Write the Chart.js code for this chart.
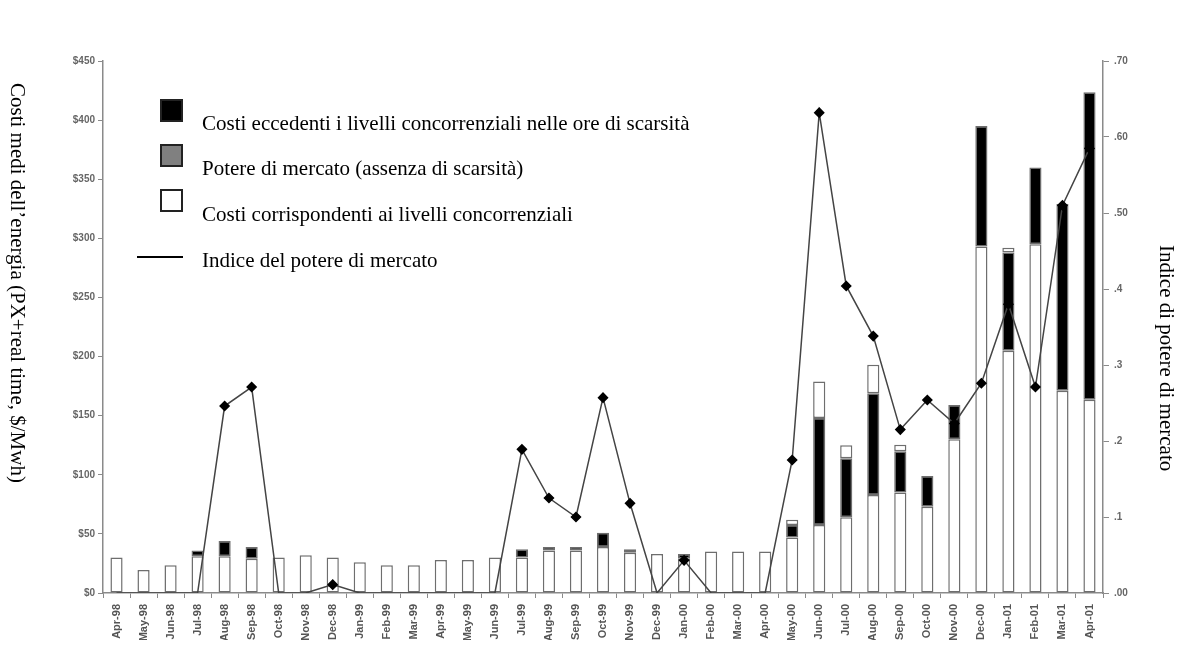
<!DOCTYPE html>
<html>
<head>
<meta charset="utf-8">
<script src="https://cdn.jsdelivr.net/npm/chart.js@4"></script>
<style>
    body { margin: 0; background: #fff; overflow: hidden; }
    #wrap { position: relative; width: 1194px; height: 649px; }
    #chart { position: absolute; left: 0; top: 0; }
    .serif { position: absolute; font-family: "Liberation Serif", "Times New Roman", serif; font-size: 21px; line-height: 21px; color: #000; white-space: nowrap; }
    .vert { writing-mode: vertical-rl; }
    .box { position: absolute; width: 23px; height: 23px; box-sizing: border-box; border: 2px solid #222; }
</style>
</head>
<body>
<div id="wrap">
    <canvas id="chart" width="1194" height="640"></canvas>

    <!-- axis titles -->
    <div class="serif vert" style="left:7px; top:83px;">Costi medi dell’energia (PX+real time, $/Mwh)</div>
    <div class="serif vert" style="left:1156px; top:245px;">Indice di potere di mercato</div>

    <!-- legend -->
    <div class="box" style="left:160px; top:99px; background:#000;"></div>
    <div class="serif" style="left:202px; top:113px;">Costi eccedenti i livelli concorrenziali nelle ore di scarsità</div>
    <div class="box" style="left:160px; top:144px; background:#808080;"></div>
    <div class="serif" style="left:202px; top:158px;">Potere di mercato (assenza di scarsità)</div>
    <div class="box" style="left:160px; top:189px; background:#fff;"></div>
    <div class="serif" style="left:202px; top:204px;">Costi corrispondenti ai livelli concorrenziali</div>
    <div style="position:absolute; left:137px; top:256px; width:46px; height:2px; background:#000;"></div>
    <div class="serif" style="left:202px; top:250px;">Indice del potere di mercato</div>
</div>

<script>
// Months
const months = [
    "Apr-98","May-98","Jun-98","Jul-98","Aug-98","Sep-98","Oct-98","Nov-98","Dec-98",
    "Jan-99","Feb-99","Mar-99","Apr-99","May-99","Jun-99","Jul-99","Aug-99","Sep-99",
    "Oct-99","Nov-99","Dec-99","Jan-00","Feb-00","Mar-00","Apr-00","May-00","Jun-00",
    "Jul-00","Aug-00","Sep-00","Oct-00","Nov-00","Dec-00","Jan-01","Feb-01","Mar-01","Apr-01"
];

// $/MWh - competitive level costs (white, bottom)
const competitiveCosts = [
    30, 19.5, 23.5, 31, 31, 29, 30, 32, 30,
    26, 23.5, 23.5, 28, 28, 30, 30, 36, 36,
    39, 34, 33, 29, 35, 35, 35, 47, 57.5,
    64, 83, 85, 73, 130, 293, 205, 295, 171, 163.5
];

// $/MWh - costs above competitive levels in scarcity hours (black)
const scarcityExcess = [
    0, 0, 0, 5, 13, 10, 0, 0, 0,
    0, 0, 0, 0, 0, 0, 7, 3, 3,
    12, 3, 0, 4, 0, 0, 0, 10.5, 90.5,
    50, 86, 35, 26, 29, 102, 83, 65, 158, 260
];

// $/MWh - market power, no scarcity (top segment)
const marketPower = [
    0, 0, 0, 0, 0, 0, 0, 0, 0,
    0, 0, 0, 0, 0, 0, 0, 0, 0,
    0, 0, 0, 0, 0, 0, 0, 4.5, 31,
    11, 24, 5.5, 0, 0, 0, 4, 0, 0, 0
];

// market power index (right axis)
const powerIndex = [
    0, 0, 0, 0, 0.246, 0.271, 0, 0, 0.011,
    0, 0, 0, 0, 0, 0, 0.189, 0.125, 0.10,
    0.257, 0.118, 0, 0.043, 0, 0, 0, 0.175, 0.632,
    0.404, 0.338, 0.215, 0.254, 0.223, 0.276, 0.38, 0.271, 0.51, 0.585
];

const indexTickLabels = [".00", ".1", ".2", ".3", ".4", ".50", ".60", ".70"];

const tickFont = { family: "'Liberation Sans', Arial, sans-serif", size: 10, weight: "bold" };
const axisGrey = "#8a8a8a";

const barStyle = {
    type: "bar",
    borderColor: "#6e6e6e",
    borderWidth: 1.5,
    borderSkipped: false,
    barPercentage: 0.45,
    categoryPercentage: 1,
    yAxisID: "y",
    order: 1
};

new Chart(document.getElementById("chart"), {
    data: {
        labels: months,
        datasets: [
            {
                type: "line",
                label: "Indice del potere di mercato",
                data: powerIndex,
                yAxisID: "y1",
                borderColor: "#444",
                borderWidth: 1.5,
                tension: 0,
                pointStyle: "rectRot",
                pointRadius: powerIndex.map(v => v > 0 ? 4.5 : 0),
                pointBackgroundColor: "#000",
                pointBorderColor: "#000",
                order: 0
            },
            {
                ...barStyle,
                label: "Costi corrispondenti ai livelli concorrenziali",
                data: competitiveCosts,
                backgroundColor: "#fff"
            },
            {
                ...barStyle,
                label: "Costi eccedenti i livelli concorrenziali nelle ore di scarsità",
                data: scarcityExcess,
                backgroundColor: "#000"
            },
            {
                ...barStyle,
                label: "Potere di mercato (assenza di scarsità)",
                data: marketPower,
                backgroundColor: "#fff"
            }
        ]
    },
    options: {
        responsive: false,
        animation: false,
        layout: { padding: { top: 61 } },
        plugins: {
            legend: { display: false },
            tooltip: { enabled: false }
        },
        scales: {
            x: {
                stacked: true,
                grid: { offset: true, drawOnChartArea: false, tickLength: 5, color: axisGrey },
                border: { color: axisGrey, width: 1.5 },
                ticks: {
                    autoSkip: false,
                    maxRotation: 90,
                    minRotation: 90,
                    padding: 6,
                    color: "#555",
                    font: { ...tickFont, size: 11 }
                },
                afterFit: s => { s.height = 47; }
            },
            y: {
                position: "left",
                stacked: true,
                min: 0,
                max: 450,
                grid: { drawOnChartArea: false, tickLength: 5, color: axisGrey },
                border: { color: axisGrey, width: 1.5 },
                ticks: {
                    stepSize: 50,
                    padding: 3,
                    color: "#666",
                    font: tickFont,
                    callback: v => "$" + v
                },
                afterFit: s => { s.width = 103; }
            },
            y1: {
                position: "right",
                min: 0,
                max: 0.7,
                grid: { drawOnChartArea: false, tickLength: 6, color: axisGrey },
                border: { color: axisGrey, width: 1.5 },
                ticks: {
                    stepSize: 0.1,
                    padding: 5,
                    color: "#666",
                    font: tickFont,
                    callback: v => indexTickLabels[Math.round(v * 10)]
                },
                afterFit: s => { s.width = 91; }
            }
        }
    }
});
</script>
</body>
</html>
